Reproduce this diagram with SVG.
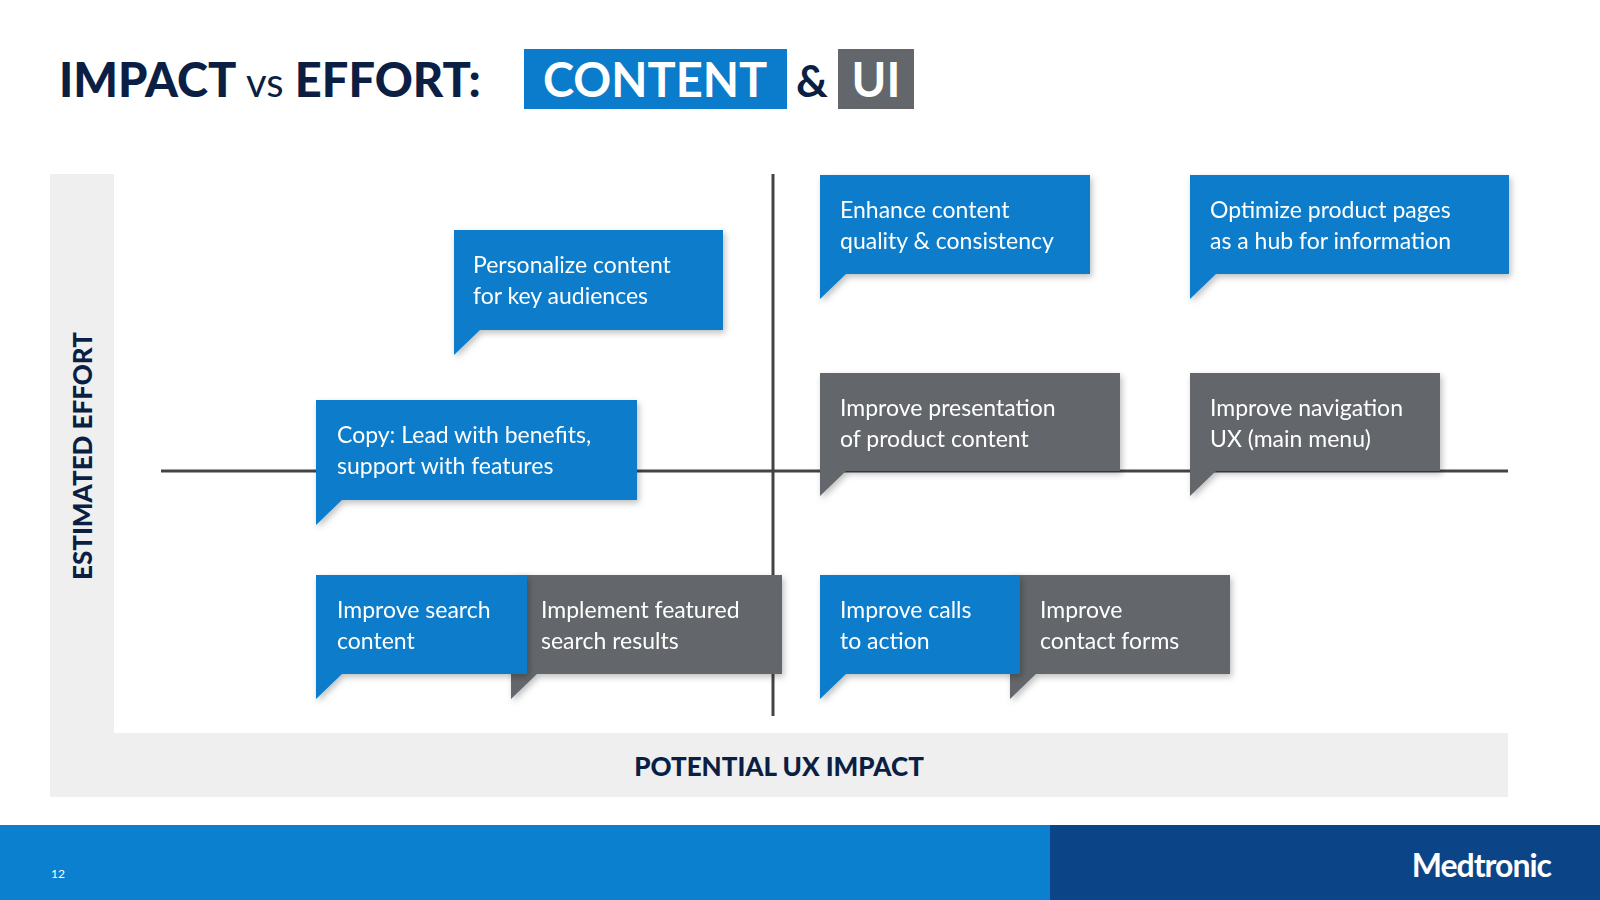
<svg xmlns="http://www.w3.org/2000/svg" width="1600" height="900" viewBox="0 0 1600 900">
<style>
.t{font-family:Lato,"Noto Sans",sans-serif;font-size:23px;fill:#fff}
.b{fill:#0a7ccb}
.g{fill:#63666a}
.ax{font-family:Lato,"Noto Sans",sans-serif;font-weight:900;font-size:26px;fill:#0b1f45}
</style>
<defs><filter id="sh" x="-10%" y="-10%" width="130%" height="140%"><feDropShadow dx="2" dy="3" stdDeviation="3" flood-opacity="0.25"/></filter></defs>
<rect width="1600" height="900" fill="#fff"/>
<g id="title">
<text x="59" y="97" font-family="Lato,'Noto Sans',sans-serif" font-weight="900" font-size="47" fill="#0b1f45">IMPACT <tspan font-weight="400" font-size="40">vs</tspan> EFFORT:</text>
<rect x="524" y="49" width="263" height="60" fill="#0a7ccb"/>
<text x="655" y="97" text-anchor="middle" font-family="Lato,'Noto Sans',sans-serif" font-weight="700" font-size="47" fill="#fff">CONTENT</text>
<text x="812" y="97" text-anchor="middle" font-family="Lato,'Noto Sans',sans-serif" font-weight="700" font-size="44" fill="#0b1f45">&amp;</text>
<rect x="838" y="49" width="76" height="60" fill="#63666a"/>
<text x="876" y="97" text-anchor="middle" font-family="Lato,'Noto Sans',sans-serif" font-weight="700" font-size="47" fill="#fff">UI</text>
</g>
<g id="axes">
<rect x="50" y="174" width="64" height="623" fill="#efefef"/>
<rect x="50" y="733" width="1458" height="64" fill="#efefef"/>
<text class="ax" transform="translate(92,456) rotate(-90)" text-anchor="middle">ESTIMATED EFFORT</text>
<text class="ax" x="779" y="776" text-anchor="middle">POTENTIAL UX IMPACT</text>
</g>
<g id="connectors" stroke="#444" stroke-width="3">
<line x1="773" y1="174" x2="773" y2="716"/>
<line x1="161" y1="471" x2="1508" y2="471"/>
</g>
<g id="n1" filter="url(#sh)"><path class="b" d="M454 230H723V330H480L454 355Z"/><text class="t" x="473" y="273">Personalize  content</text><text class="t" x="473" y="304">for  key audiences</text></g>
<g id="n2" filter="url(#sh)"><path class="b" d="M820 175H1090V274H846L820 299Z"/><text class="t" x="840" y="218">Enhance content</text><text class="t" x="840" y="249">quality &amp; consistency</text></g>
<g id="n3" filter="url(#sh)"><path class="b" d="M1190 175H1509V274H1216L1190 299Z"/><text class="t" x="1210" y="218">Optimize product pages</text><text class="t" x="1210" y="249">as a hub for information</text></g>
<g id="n4" filter="url(#sh)"><path class="b" d="M316 400H637V500H342L316 525Z"/><text class="t" x="337" y="443">Copy: Lead with benefits,</text><text class="t" x="337" y="474">support with features</text></g>
<g id="n5" filter="url(#sh)"><path class="g" d="M820 373H1120V471H846L820 496Z"/><text class="t" x="840" y="416">Improve presentation</text><text class="t" x="840" y="447">of product content</text></g>
<g id="n6" filter="url(#sh)"><path class="g" d="M1190 373H1440V471H1216L1190 496Z"/><text class="t" x="1210" y="416">Improve navigation</text><text class="t" x="1210" y="447">UX (main menu)</text></g>
<g id="n8" filter="url(#sh)"><path class="g" d="M511 575H782V674H537L511 699Z"/><text class="t" x="541" y="618">Implement featured</text><text class="t" x="541" y="649">search results</text></g>
<g id="n7" filter="url(#sh)"><path class="b" d="M316 575H527V674H342L316 699Z"/><text class="t" x="337" y="618">Improve search</text><text class="t" x="337" y="649">content</text></g>
<g id="n10" filter="url(#sh)"><path class="g" d="M1010 575H1230V674H1036L1010 699Z"/><text class="t" x="1040" y="618">Improve</text><text class="t" x="1040" y="649">contact forms</text></g>
<g id="n9" filter="url(#sh)"><path class="b" d="M820 575H1020V674H846L820 699Z"/><text class="t" x="840" y="618">Improve calls</text><text class="t" x="840" y="649">to action</text></g>
<g id="footer">
<rect x="0" y="825" width="1050" height="75" fill="#0a80cf"/>
<rect x="1050" y="825" width="550" height="75" fill="#0b4587"/>
<text x="51" y="878" font-family="Lato,sans-serif" font-size="12" fill="#fff">12</text>
<text x="1551" y="877" text-anchor="end" font-family="Lato,'Noto Sans',sans-serif" font-weight="700" font-size="32" fill="#fff" letter-spacing="-1">Medtronic</text>
</g>
</svg>
